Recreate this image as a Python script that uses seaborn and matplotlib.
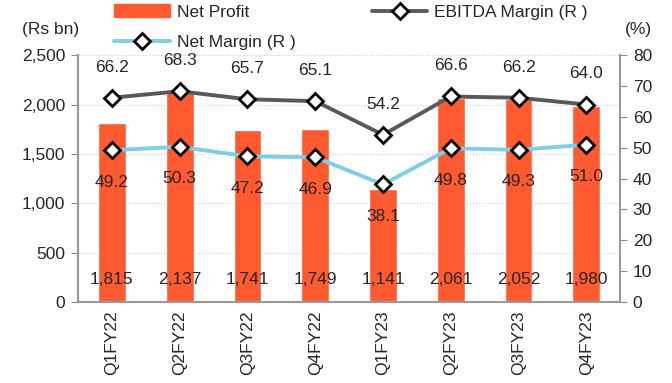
import matplotlib
matplotlib.use("Agg")
import matplotlib.pyplot as plt
import matplotlib.transforms as mtransforms
from matplotlib.patches import Patch
from matplotlib.lines import Line2D
import seaborn as sns
import pandas as pd

# data
quarters = ["Q1FY22", "Q2FY22", "Q3FY22", "Q4FY22", "Q1FY23", "Q2FY23", "Q3FY23", "Q4FY23"]
net_profit = [1815, 2137, 1741, 1749, 1141, 2061, 2052, 1980]
ebitda_margin = [66.2, 68.3, 65.7, 65.1, 54.2, 66.6, 66.2, 64.0]
net_margin = [49.2, 50.3, 47.2, 46.9, 38.1, 49.8, 49.3, 51.0]

bar_col = "#FF5A30"
ebitda_col = "#595959"
nm_col = "#7ECFE4"
fs = 12.5

sns.set_style("white")
plt.rcParams["font.family"] = ["Liberation Sans", "DejaVu Sans"]

df = pd.DataFrame({"q": quarters, "np": net_profit, "em": ebitda_margin, "nm": net_margin})

fig = plt.figure(figsize=(6.72, 3.83), dpi=100)
ax = fig.add_axes([0.116, 0.2115, 0.807, 0.6445])
sns.barplot(data=df, x="q", y="np", color=bar_col, width=0.41, saturation=1, ax=ax, zorder=2)
ax.set_ylim(0, 2500)
ax.set_yticks(range(0, 2501, 500))
ax.set_yticklabels([f"{v:,}" for v in range(0, 2501, 500)], fontsize=fs)
ax.set_xlim(-0.5, len(quarters) - 0.5)
ax.set_xlabel("")
ax.set_ylabel("")
ax.grid(axis="y", color="#cccccc", linestyle=":", linewidth=0.8, zorder=0)
ax.set_axisbelow(True)

# x ticks at category boundaries, labels centred and rotated
ax.set_xticks([i + 0.5 for i in range(-1, len(quarters))])
ax.set_xticklabels([])
ax.set_xticks(range(len(quarters)), minor=True)
ax.set_xticklabels(quarters, minor=True, rotation=90, fontsize=fs)
ax.tick_params(axis="x", which="minor", length=0, pad=6)
ax.tick_params(axis="x", which="major", length=5, color="#888888", direction="out")
ax.tick_params(axis="y", length=5, color="#888888", direction="out", left=True, pad=4)

for s in ["left", "bottom", "right"]:
    ax.spines[s].set_color("#999999")
    ax.spines[s].set_linewidth(1.5)
ax.spines["top"].set_visible(False)

# bar value labels near the bottom
trans = mtransforms.blended_transform_factory(ax.transData, ax.transAxes)
for i, v in enumerate(net_profit):
    ax.text(i, 0.09, f"{v:,}", transform=trans, ha="center", va="center", fontsize=fs)

ax2 = ax.twinx()
xs = list(range(len(quarters)))
mk = dict(marker="D", markersize=8, markerfacecolor="white", markeredgecolor="black", markeredgewidth=2)
sns.lineplot(x=xs, y=ebitda_margin, ax=ax2, color=ebitda_col, linewidth=2.8, zorder=3, **mk)
sns.lineplot(x=xs, y=net_margin, ax=ax2, color=nm_col, linewidth=2.8, zorder=3, **mk)
ax2.set_ylim(0, 80)
ax2.set_yticks(range(0, 81, 10))
ax2.set_yticklabels([str(v) for v in range(0, 81, 10)], fontsize=fs)
ax2.tick_params(axis="y", length=5, color="#888888", direction="out", right=True, pad=4)
for s in ["left", "bottom", "right", "top"]:
    ax2.spines[s].set_visible(False)
ax2.grid(False)

for i, v in enumerate(ebitda_margin):
    ax2.annotate(f"{v:.1f}", (i, v), xytext=(0, 22), textcoords="offset points",
                 ha="center", va="center", fontsize=fs)
for i, v in enumerate(net_margin):
    ax2.annotate(f"{v:.1f}", (i, v), xytext=(0, -23), textcoords="offset points",
                 ha="center", va="center", fontsize=fs)

# legend
h_np = Patch(color=bar_col, label="Net Profit")
h_nm = Line2D([], [], color=nm_col, lw=2.8, label="Net Margin (R )", **mk)
h_em = Line2D([], [], color=ebitda_col, lw=2.8, label="EBITDA Margin (R )", **mk)
fig.legend(handles=[h_np, h_nm, h_em], ncol=2, loc="upper left", bbox_to_anchor=(0.152, 1.02),
           frameon=False, fontsize=fs, handlelength=3.2, columnspacing=4.4, labelspacing=0.9,
           handletextpad=0.4, borderpad=0.2)

fig.text(0.033, 0.922, "(Rs bn)", fontsize=fs, va="center")
fig.text(0.93, 0.922, "(%)", fontsize=fs, va="center")

fig.savefig("out.png", dpi=100)
